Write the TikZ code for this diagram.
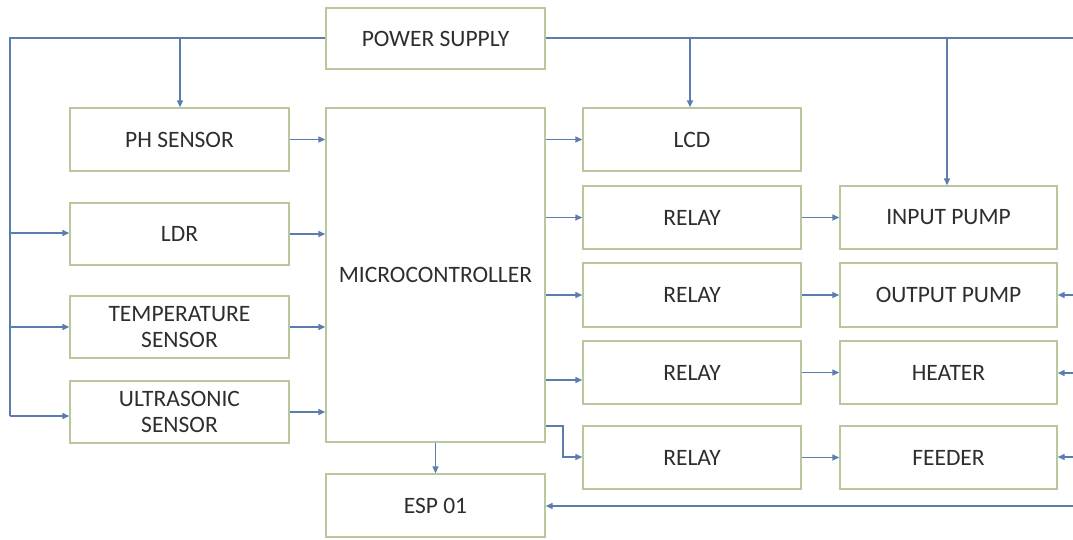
\documentclass[tikz,border=0pt]{standalone}
\usepackage{fontspec}
\setmainfont{Carlito}
\usetikzlibrary{arrows.meta}
\definecolor{linec}{HTML}{5A7DAE}
\definecolor{boxc}{HTML}{B9C79F}
\definecolor{txtc}{HTML}{2E2E2E}
\begin{document}
\begin{tikzpicture}[x=1pt,y=-1pt,
  blk/.style={draw=boxc,line width=1.4pt,fill=white,minimum width=219pt,minimum height=63pt,
    inner sep=0pt,align=center,text=txtc,font=\fontsize{23.5}{26}\selectfont},
  conn/.style={draw=linec,line width=1.4pt,-{Triangle[length=7pt,width=6pt]}},
  wire/.style={draw=linec,line width=1.4pt}]
\useasboundingbox[fill=white] (0,0) rectangle (1073,539);
% boxes
\node[blk,minimum height=61pt] (ps) at (435.5,38.5) {POWER SUPPLY};
\node[blk] (ph) at (179.5,139.5) {PH SENSOR};
\node[blk,minimum height=62pt] (ldr) at (179.5,234) {LDR};
\node[blk,minimum height=62pt] (temp) at (179.5,327) {TEMPERATURE\\SENSOR};
\node[blk,minimum height=62pt] (ultra) at (179.5,412) {ULTRASONIC\\SENSOR};
\node[blk,minimum height=334pt] (mcu) at (435.5,275) {MICROCONTROLLER};
\node[blk] (esp) at (435.5,505.5) {ESP 01};
\node[blk,minimum width=218pt] (lcd) at (692,139.5) {LCD};
\node[blk,minimum width=218pt] (r1) at (692,217.5) {RELAY};
\node[blk,minimum width=218pt,minimum height=64pt] (r2) at (692,295) {RELAY};
\node[blk,minimum width=218pt] (r3) at (692,372.5) {RELAY};
\node[blk,minimum width=218pt] (r4) at (692,457.5) {RELAY};
\node[blk,minimum width=217pt] (ip) at (948.5,217.5) {INPUT PUMP};
\node[blk,minimum width=217pt,minimum height=64pt] (op) at (948.5,295) {OUTPUT PUMP};
\node[blk,minimum width=217pt] (heat) at (948.5,372.5) {HEATER};
\node[blk,minimum width=217pt] (feed) at (948.5,457.5) {FEEDER};
% coordinates
\coordinate (lt) at (10,38);
\coordinate (lb) at (10,416);
\coordinate (pb1) at (180,38);
\coordinate (rt) at (1074,38);
\coordinate (pl) at (690,38);
\coordinate (pi) at (947,38);
\coordinate (e1) at (1074,295);
\coordinate (e2) at (1074,373);
\coordinate (e3) at (1074,457);
\coordinate (e4) at (1074,506);
\coordinate (k1) at (563,426);
\coordinate (k2) at (563,457);
% power wiring left
\draw[wire] (ps.west |- lt) -- (lt) -- (lb);
\draw[conn] (lb) -- (lb -| ultra.west);
\draw[conn] (10,233) -- (ldr.west |- 0,233);
\draw[conn] (10,327) -- (temp.west |- 0,327);
\draw[conn] (pb1) -- (pb1 |- ph.north);
% power wiring right
\draw[wire] (ps.east |- rt) -- (rt);
\draw[conn] (pl) -- (pl |- lcd.north);
\draw[conn] (pi) -- (pi |- ip.north);
% sensors to mcu
\draw[conn] (ph.east) -- (ph.east -| mcu.west);
\draw[conn] (ldr.east) -- (ldr.east -| mcu.west);
\draw[conn] (temp.east) -- (temp.east -| mcu.west);
\draw[conn] (ultra.east) -- (ultra.east -| mcu.west);
% mcu outputs
\draw[conn] (mcu.east |- lcd.west) -- (lcd.west);
\draw[conn] (mcu.east |- r1.west) -- (r1.west);
\draw[conn] (mcu.east |- r2.west) -- (r2.west);
\draw[conn] (mcu.east |- 0,380) -- (r3.west |- 0,380);
\draw[conn] (mcu.east |- k1) -- (k1) -- (k2) -- (k2 -| r4.west);
\draw[conn] (mcu.south) -- (esp.north);
% relays to loads
\draw[conn] (r1.east) -- (ip.west);
\draw[conn] (r2.east) -- (op.west);
\draw[conn] (r3.east) -- (heat.west);
\draw[conn] (r4.east) -- (feed.west);
% from right edge
\draw[conn] (e1) -- (e1 -| op.east);
\draw[conn] (e2) -- (e2 -| heat.east);
\draw[conn] (e3) -- (e3 -| feed.east);
\draw[conn] (e4) -- (e4 -| esp.east);
\end{tikzpicture}
\end{document}
